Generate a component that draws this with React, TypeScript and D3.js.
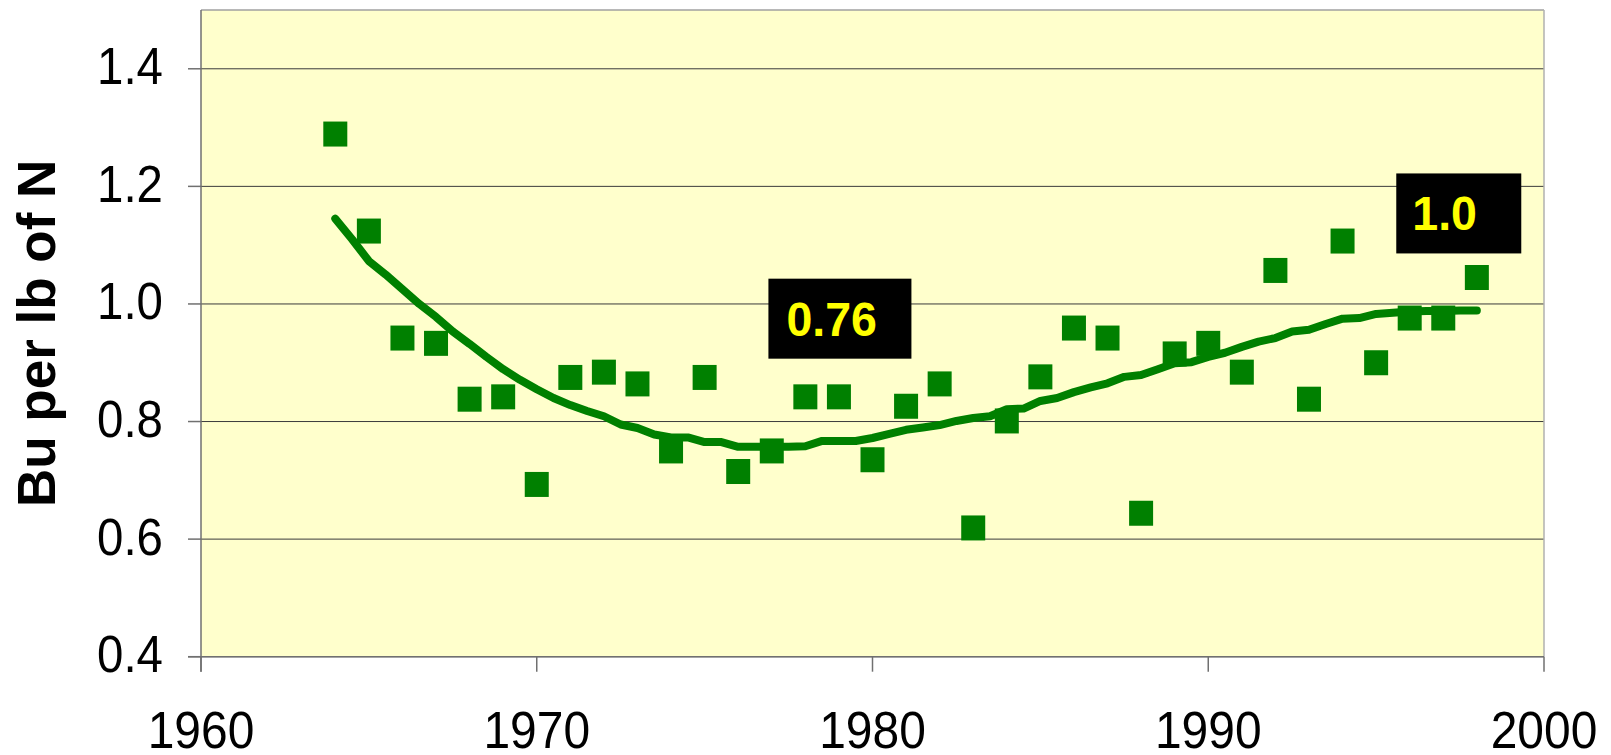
import React from "react";
import * as d3 from "d3";

// ---- data ----
const years: number[] = [
  1964, 1965, 1966, 1967, 1968, 1969, 1970, 1971, 1972, 1973, 1974, 1975, 1976, 1977, 1978,
  1979, 1980, 1981, 1982, 1983, 1984, 1985, 1986, 1987, 1988, 1989, 1990, 1991, 1992, 1993,
  1994, 1995, 1996, 1997, 1998,
];
const buPerLb: number[] = [
  1.289, 1.124, 0.942, 0.933, 0.838, 0.842, 0.693, 0.875, 0.884, 0.864, 0.75, 0.875, 0.715,
  0.75, 0.842, 0.842, 0.735, 0.826, 0.864, 0.619, 0.801, 0.876, 0.959, 0.942, 0.644, 0.915,
  0.933, 0.884, 1.057, 0.838, 1.107, 0.9, 0.976, 0.976, 1.045,
];

const trendYears: number[] = [
  1964, 1964.5, 1965, 1965.5, 1966, 1966.5, 1967, 1967.5, 1968, 1968.5, 1969, 1969.5, 1970,
  1970.5, 1971, 1971.5, 1972, 1972.5, 1973, 1973.5, 1974, 1974.5, 1975, 1975.5, 1976, 1976.5,
  1977, 1977.5, 1978, 1978.5, 1979, 1979.5, 1980, 1980.5, 1981, 1981.5, 1982, 1982.5, 1983,
  1983.5, 1984, 1984.5, 1985, 1985.5, 1986, 1986.5, 1987, 1987.5, 1988, 1988.5, 1989, 1989.5,
  1990, 1990.5, 1991, 1991.5, 1992, 1992.5, 1993, 1993.5, 1994, 1994.5, 1995, 1995.5, 1996,
  1996.5, 1997, 1997.5, 1998,
];
const trendValues: number[] = [
  1.145, 1.11, 1.073, 1.05, 1.025, 1.0, 0.978, 0.953, 0.932, 0.91, 0.889, 0.871, 0.855, 0.84,
  0.828, 0.818, 0.809, 0.795, 0.789, 0.778, 0.773, 0.773, 0.765, 0.765, 0.757, 0.757, 0.757,
  0.757, 0.758, 0.767, 0.767, 0.767, 0.772, 0.779, 0.786, 0.79, 0.794, 0.801, 0.806, 0.809,
  0.821, 0.822, 0.835, 0.84, 0.85, 0.858, 0.865, 0.876, 0.879, 0.889, 0.899, 0.901, 0.91,
  0.917, 0.927, 0.936, 0.942, 0.953, 0.956, 0.966, 0.975, 0.976, 0.983, 0.985, 0.987, 0.988,
  0.988, 0.989, 0.989,
];

const xTicks: number[] = [1960, 1970, 1980, 1990, 2000];
const yTicks: number[] = [0.4, 0.6, 0.8, 1.0, 1.2, 1.4];
const yTitle = "Bu per lb of N";

const annotations = [
  { text: "0.76", year: 1976.9, value: 1.043, w: 143, h: 80, dx: 18, base: 57 },
  { text: "1.0", year: 1995.6, value: 1.222, w: 125, h: 80, dx: 16, base: 57 },
];

// ---- layout ----
const W = 1611;
const H = 755;
const left = 201;
const right = 1544;
const top = 10;
const bottom = 656.7;

export default function App() {
  const x = d3.scaleLinear().domain([1960, 2000]).range([left, right]);
  const y = d3.scaleLinear().domain([0.4, 1.5]).range([bottom, top]);

  const trend = trendYears.map((t, i) => [t, trendValues[i]] as [number, number]);
  const line = d3
    .line<[number, number]>()
    .x((d) => x(d[0]))
    .y((d) => y(d[1]));

  const mw = 24;
  const mh = 25;
  const tickFont = "'Liberation Sans', Arial, sans-serif";

  return (
    <svg
      width={W}
      height={H}
      style={{ position: "absolute", left: 0, top: 0, background: "#fff" }}
    >
      <rect x={left} y={top} width={right - left} height={bottom - top} fill="#FFFFCC" />
      {/* gridlines */}
      {yTicks.map((t) => (
        <line
          key={"g" + t}
          x1={left}
          x2={right}
          y1={y(t)}
          y2={y(t)}
          stroke="#3a3a3a"
          strokeWidth={1}
        />
      ))}
      {/* frame */}
      <line x1={left} x2={right} y1={top} y2={top} stroke="#a0a0a0" strokeWidth={1.5} />
      <line x1={right} x2={right} y1={top} y2={bottom} stroke="#b0b0b0" strokeWidth={1.5} />
      <line x1={left} x2={left} y1={top} y2={bottom + 15} stroke="#707070" strokeWidth={1.5} />
      <line x1={left - 13} x2={right} y1={bottom} y2={bottom} stroke="#707070" strokeWidth={1.5} />
      {/* y ticks */}
      {yTicks.map((t) => (
        <g key={"yt" + t}>
          <line x1={left - 13} x2={left} y1={y(t)} y2={y(t)} stroke="#707070" strokeWidth={1.5} />
          <text
            transform={`translate(${left - 38},${y(t) + 15.5}) scale(0.93,1)`}
            textAnchor="end"
            fontFamily={tickFont}
            fontSize={51}
            fill="#000"
          >
            {t.toFixed(1)}
          </text>
        </g>
      ))}
      {/* x ticks */}
      {xTicks.map((t) => (
        <g key={"xt" + t}>
          <line x1={x(t)} x2={x(t)} y1={bottom} y2={bottom + 15} stroke="#707070" strokeWidth={1.5} />
          <text
            transform={`translate(${x(t)},${748}) scale(0.94,1)`}
            textAnchor="middle"
            fontFamily={tickFont}
            fontSize={51}
            fill="#000"
          >
            {t}
          </text>
        </g>
      ))}
      {/* y title */}
      <text
        transform={`translate(55,${(top + bottom) / 2}) rotate(-90)`}
        textAnchor="middle"
        fontFamily={tickFont}
        fontWeight="bold"
        fontSize={53}
        fill="#000"
      >
        {yTitle}
      </text>
      {/* trend line */}
      <path
        d={line(trend) || ""}
        fill="none"
        stroke="#008000"
        strokeWidth={8}
        strokeLinecap="round"
        strokeLinejoin="round"
      />
      {/* markers */}
      {years.map((yr, i) => (
        <rect
          key={"m" + yr}
          x={x(yr) - mw / 2}
          y={y(buPerLb[i]) - mh / 2}
          width={mw}
          height={mh}
          fill="#008000"
        />
      ))}
      {/* annotations */}
      {annotations.map((a) => (
        <g key={a.text} transform={`translate(${x(a.year)},${y(a.value)})`}>
          <rect x={0} y={0} width={a.w} height={a.h} fill="#000" />
          <text
            transform={`translate(${a.dx},${a.base}) scale(0.95,1)`}
            fontFamily={tickFont}
            fontWeight="bold"
            fontSize={49}
            fill="#FFFF00"
          >
            {a.text}
          </text>
        </g>
      ))}
    </svg>
  );
}
